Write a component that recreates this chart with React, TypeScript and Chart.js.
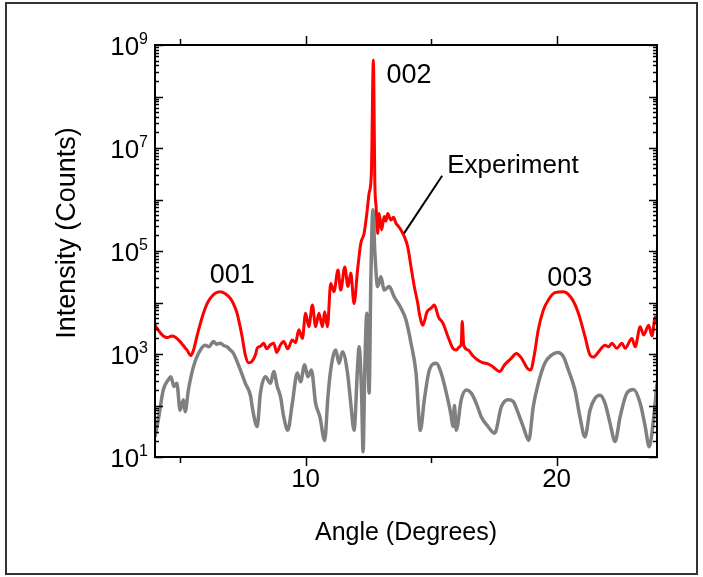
import { useEffect, useRef } from "react";
import Chart from "chart.js/auto";

// Measured reflectivity (red) and second scan (grey) versus angle
const redAngles = [
  4.0, 4.15, 4.33, 4.5, 4.67, 4.8, 5.0, 5.15, 5.27, 5.43, 5.55, 5.67, 5.8, 5.93, 6.05, 6.2, 6.4, 6.6, 6.8, 7.0,
  7.15, 7.27, 7.37, 7.47, 7.6, 7.73, 7.85, 8.0, 8.07, 8.2, 8.33, 8.45, 8.6, 8.73, 8.85, 9.0, 9.13, 9.29, 9.47, 9.6,
  9.73, 9.87, 10.0, 10.13, 10.27, 10.4, 10.53, 10.67, 10.76, 10.87, 11.0, 11.13, 11.29, 11.4, 11.56, 11.69, 11.8, 11.93, 12.07, 12.2,
  12.33, 12.44, 12.53, 12.62, 12.7, 12.76, 12.81, 12.87, 12.93, 13.03, 13.13, 13.2, 13.27, 13.4, 13.5, 13.6, 13.7, 13.8, 13.93, 14.07, 14.2, 14.33, 14.47,
  14.53, 14.67, 14.84, 15.0, 15.13, 15.29, 15.47, 15.67, 15.87, 16.0, 16.13, 16.2, 16.24, 16.3, 16.47, 16.67, 16.87, 17.07, 17.27, 17.47,
  17.73, 17.93, 18.2, 18.4, 18.6, 18.84, 18.97, 19.1, 19.27, 19.47, 19.67, 19.93, 20.27, 20.6, 20.87, 21.13, 21.33, 21.47, 21.67, 21.93,
  22.07, 22.2, 22.4, 22.6, 22.73, 23.0, 23.13, 23.33, 23.47, 23.67, 23.8, 23.93, 24.0,
];
const redCounts = [
  3630, 2820, 2240, 2090, 2240, 2140, 1740, 1410, 1200, 930, 1260, 2190, 3800, 6170, 8910, 12000, 15100, 16200, 14800, 12000,
  8910, 6170, 3800, 2190, 955, 676, 708, 955, 1290, 1410, 1620, 1260, 1510, 1620, 1070, 1510, 1740, 1260, 1860, 1660,
  2950, 2000, 6170, 3390, 8910, 3390, 6170, 3390, 6610, 3390, 23400, 16200, 42700, 17400, 49000, 20400, 37200, 9550, 42700, 141000,
  219000, 537000, 1320000, 3160000, 513000000, 2000000, 724000, 219000, 537000, 257000, 468000, 380000, 537000, 398000, 450000, 347000, 300000, 257000, 191000, 120000, 49000, 20400, 9550,
  6170, 3630, 6610, 7760, 8910, 5250, 3980, 2190, 1290, 1200, 1380, 1580, 4270, 1480, 1200, 912, 759, 676, 646, 562,
  457, 617, 832, 1020, 832, 525, 490, 891, 2950, 7080, 11200, 15500, 16200, 12000, 6170, 2190, 955, 871, 1100, 1480,
  1380, 1620, 1290, 1620, 1290, 2000, 1380, 3390, 2340, 3630, 2240, 5250, 3980,
];

const grayAngles = [
  4.0, 4.13, 4.33, 4.53, 4.63, 4.76, 4.87, 5.0, 5.13, 5.2, 5.33, 5.53, 5.73, 6.0, 6.15, 6.33, 6.45, 6.6, 6.75, 6.87, 7.0, 7.13, 7.4, 7.6,
  7.8, 7.9, 8.07, 8.2, 8.4, 8.6, 8.73, 8.87, 9.0, 9.13, 9.29, 9.47, 9.67, 9.8, 9.96, 10.09, 10.23, 10.4, 10.57, 10.76,
  10.89, 11.0, 11.2, 11.33, 11.47, 11.67, 11.8, 11.93, 12.07, 12.13, 12.23, 12.29, 12.36, 12.44, 12.53, 12.6, 12.68, 12.76, 12.87, 13.0,
  13.13, 13.33, 13.53, 13.8, 14.0, 14.2, 14.4, 14.57, 14.73, 14.93, 15.2, 15.4, 15.67, 15.8, 15.87, 15.93, 16.0, 16.2, 16.4, 16.6,
  16.8, 17.0, 17.27, 17.53, 17.8, 18.07, 18.27, 18.47, 18.67, 18.89, 19.07, 19.27, 19.53, 19.8, 20.05, 20.27, 20.47, 20.73, 20.93, 21.13,
  21.33, 21.53, 21.73, 21.93, 22.13, 22.33, 22.53, 22.8, 23.07, 23.33, 23.53, 23.69, 23.87, 24.0,
];
const grayCounts = [
  24.5, 52.5, 200, 316, 363, 234, 269, 81, 129, 76, 200, 562, 1020, 1480, 1380, 1740, 1550, 1620, 1450, 1380, 1200, 1020, 490, 269,
  158, 79, 39, 174, 363, 269, 457, 234, 148, 60, 33, 110, 427, 288, 617, 363, 490, 110, 60, 21,
  148, 490, 1200, 661, 1100, 427, 110, 33, 562, 1380, 174, 12.6, 562, 6170, 174, 27500, 631000, 91200, 20400, 31600,
  17400, 20400, 12900, 7760, 4570, 1620, 427, 33, 129, 490, 661, 427, 129, 63, 39, 100, 33, 129, 200, 174,
  110, 60, 39, 29, 95, 129, 120, 71, 39, 21, 95, 269, 661, 955, 1070, 891, 490, 200, 60, 24.5,
  81, 138, 158, 110, 45, 20, 60, 174, 204, 110, 39, 15.8, 60, 269,
];

// Axis settings
const xMin = 4;
const xMax = 24;
const yMin = 10;
const yMax = 1e9;
const xMajorTicks = [10, 20];
const xMinorTicks = [5, 15];
const yLabelExponents = [1, 3, 5, 7, 9];
const xTitle = "Angle (Degrees)";
const yTitle = "Intensity (Counts)";

// Peak annotations
const peakLabels = ["001", "002", "003"];
const peakLabelAngles = [7.08, 14.12, 20.52];
const peakLabelCounts = [3.4e4, 2.5e8, 2.9e4];

// Callout for the measured curve
const calloutText = "Experiment";
const calloutTextAngle = 15.64;
const calloutTextCount = 4.5e6;
const calloutFrom = [15.44, 2.9e6];
const calloutTo = [13.92, 2.2e5];

const FONT = "'Liberation Sans', Arial, sans-serif";

const decorations = {
  id: "decorations",
  afterDraw(chart: any) {
    const { ctx, chartArea: a, scales } = chart;
    const xs = scales.x;
    const ys = scales.y;
    ctx.save();

    // outer frame
    ctx.strokeStyle = "#333";
    ctx.lineWidth = 2;
    ctx.strokeRect(6, 3, 691, 571);

    // plot frame
    ctx.strokeStyle = "#000";
    ctx.lineWidth = 2;
    ctx.strokeRect(a.left, a.top, a.right - a.left, a.bottom - a.top);

    // y ticks (log decades with minor subdivisions), pointing inward
    ctx.lineWidth = 1.5;
    for (let e = 1; e <= 9; e++) {
      for (let m = 1; m <= 9; m++) {
        const v = m * Math.pow(10, e);
        if (v > yMax) break;
        const y = Math.round(ys.getPixelForValue(v)) + 0.5;
        const len = m === 1 ? 8 : 4;
        ctx.beginPath();
        ctx.moveTo(a.left, y);
        ctx.lineTo(a.left + len, y);
        ctx.moveTo(a.right, y);
        ctx.lineTo(a.right - len, y);
        ctx.stroke();
      }
    }

    // x ticks, pointing outward
    const drawX = (val: number, len: number) => {
      const x = Math.round(xs.getPixelForValue(val)) + 0.5;
      ctx.beginPath();
      ctx.moveTo(x, a.bottom);
      ctx.lineTo(x, a.bottom + len);
      ctx.moveTo(x, a.top);
      ctx.lineTo(x, a.top - len);
      ctx.stroke();
    };
    xMajorTicks.forEach((v) => drawX(v, 9));
    xMinorTicks.forEach((v) => drawX(v, 6));

    ctx.fillStyle = "#000";

    // x tick labels
    ctx.font = `26px ${FONT}`;
    ctx.textAlign = "center";
    ctx.textBaseline = "alphabetic";
    xMajorTicks.forEach((v) => {
      ctx.fillText(String(v), xs.getPixelForValue(v), a.bottom + 30);
    });

    // y tick labels as powers of ten
    yLabelExponents.forEach((e) => {
      const y = ys.getPixelForValue(Math.pow(10, e));
      const right = a.left - 7;
      ctx.font = `16px ${FONT}`;
      const expW = ctx.measureText(String(e)).width;
      ctx.textAlign = "right";
      ctx.fillText(String(e), right, y - 1);
      ctx.font = `26px ${FONT}`;
      ctx.fillText("10", right - expW, y + 10);
    });

    // axis titles
    ctx.textAlign = "center";
    ctx.textBaseline = "middle";
    ctx.font = `25px ${FONT}`;
    ctx.fillText(xTitle, (a.left + a.right) / 2, 533);
    ctx.save();
    ctx.translate(68, 233);
    ctx.rotate(-Math.PI / 2);
    ctx.font = `27px ${FONT}`;
    ctx.fillText(yTitle, 0, 0);
    ctx.restore();

    // peak labels
    ctx.font = `27px ${FONT}`;
    peakLabels.forEach((t, i) => {
      ctx.fillText(t, xs.getPixelForValue(peakLabelAngles[i]), ys.getPixelForValue(peakLabelCounts[i]));
    });

    // callout
    ctx.textAlign = "left";
    ctx.font = `26px ${FONT}`;
    ctx.fillText(calloutText, xs.getPixelForValue(calloutTextAngle), ys.getPixelForValue(calloutTextCount));
    ctx.lineWidth = 2;
    ctx.beginPath();
    ctx.moveTo(xs.getPixelForValue(calloutFrom[0]), ys.getPixelForValue(calloutFrom[1]));
    ctx.lineTo(xs.getPixelForValue(calloutTo[0]), ys.getPixelForValue(calloutTo[1]));
    ctx.stroke();

    ctx.restore();
  },
};

export default function App() {
  const ref = useRef<HTMLCanvasElement | null>(null);

  useEffect(() => {
    if (!ref.current) return;
    const chart = new Chart(ref.current, {
      type: "line",
      data: {
        datasets: [
          {
            label: "Experiment",
            data: redAngles.map((x, i) => ({ x, y: redCounts[i] })),
            borderColor: "#ff0000",
            borderWidth: 3,
            pointRadius: 0,
            cubicInterpolationMode: "monotone",
          },
          {
            label: "Scan",
            data: grayAngles.map((x, i) => ({ x, y: grayCounts[i] })),
            borderColor: "#808080",
            borderWidth: 3.5,
            pointRadius: 0,
            cubicInterpolationMode: "monotone",
          },
        ],
      },
      options: {
        responsive: false,
        animation: false,
        devicePixelRatio: 1,
        layout: { padding: { left: 155, right: 46, top: 45, bottom: 120 } },
        plugins: { legend: { display: false }, tooltip: { enabled: false } },
        scales: {
          x: { type: "linear", min: xMin, max: xMax, display: false },
          y: { type: "logarithmic", min: yMin, max: yMax, display: false },
        },
      },
      plugins: [decorations],
    });
    return () => chart.destroy();
  }, []);

  return (
    <div style={{ position: "fixed", left: 0, top: 0, width: 703, height: 577, background: "#fff" }}>
      <canvas ref={ref} width={703} height={577} style={{ width: 703, height: 577 }} />
    </div>
  );
}
